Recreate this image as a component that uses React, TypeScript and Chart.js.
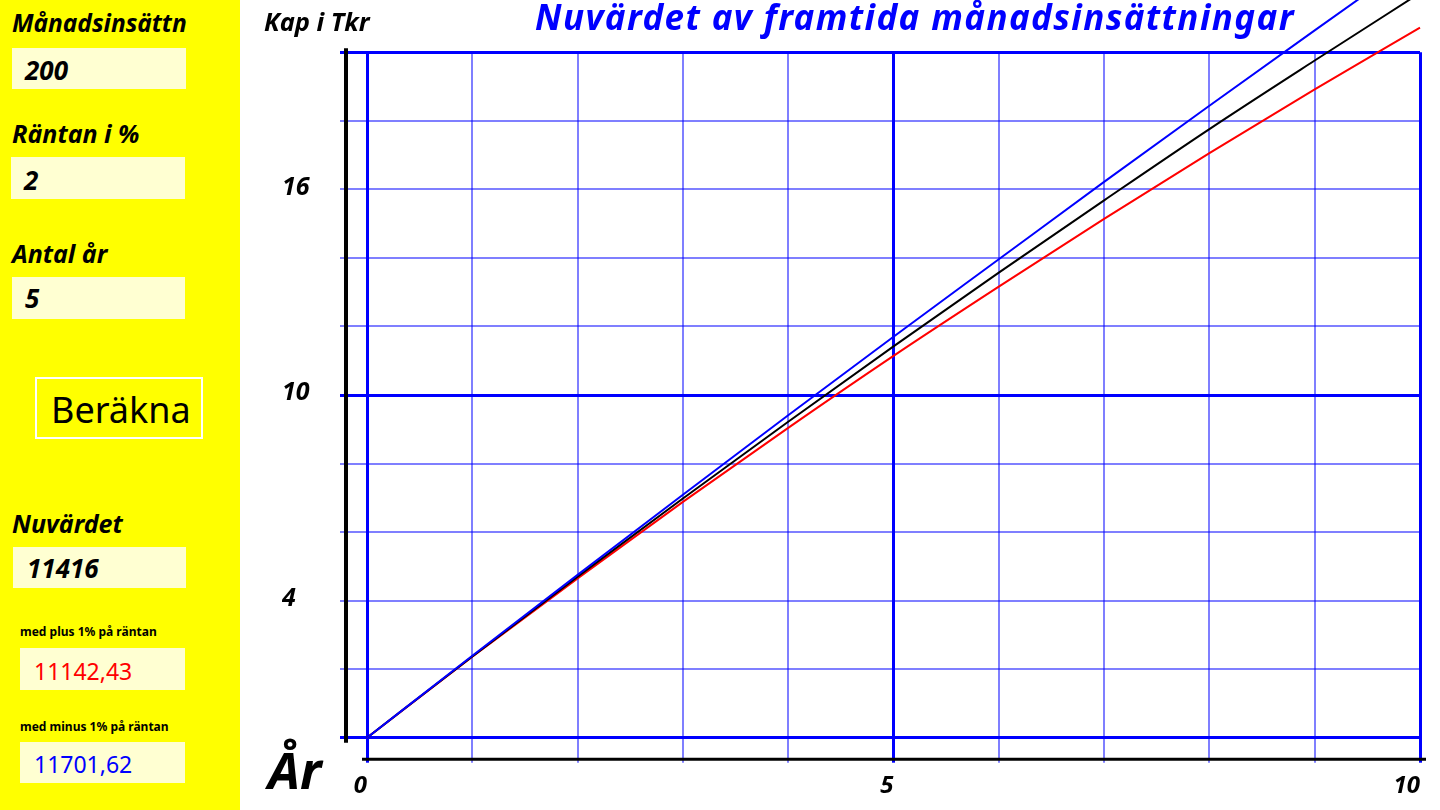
import React, { useEffect, useRef } from "react";
import { Chart, registerables } from "chart.js";

Chart.register(...registerables);

// Years on the x axis
const years = [0, 1, 2, 3, 4, 5, 6, 7, 8, 9, 10];
// Present value in Tkr, interest 2 % (black)
const baseValues = [0, 2.37, 4.7, 6.98, 9.22, 11.42, 13.57, 15.68, 17.76, 19.76, 21.73];
// Interest +1 % (red)
const plusValues = [0, 2.36, 4.65, 6.88, 9.04, 11.14, 13.16, 15.14, 17.06, 18.92, 20.72];
// Interest -1 % (blue)
const minusValues = [0, 2.39, 4.75, 7.09, 9.41, 11.7, 13.96, 16.22, 18.44, 20.64, 22.82];

const yTickLabels = [4, 10, 16];
const xTickLabels = [0, 5, 10];
const majorX = [0, 5, 10];
const majorY = [0, 10, 20];

const FONT = "'Noto Sans', sans-serif";

function Txt(props: {
  x: number;
  base: number;
  size: number;
  text: string;
  bold?: boolean;
  italic?: boolean;
  color?: string;
  spacing?: number;
}) {
  const { x, base, size, text, bold = true, italic = true, color = "#000", spacing = 0 } = props;
  return (
    <div
      style={{
        position: "absolute",
        left: x,
        top: base - 0.888 * size,
        fontFamily: FONT,
        fontSize: size,
        lineHeight: 1,
        fontWeight: bold ? 700 : 400,
        fontStyle: italic ? "italic" : "normal",
        letterSpacing: spacing,
        color,
        whiteSpace: "nowrap",
      }}
    >
      {text}
    </div>
  );
}

function Box(props: { x: number; y: number; w: number; h: number }) {
  return (
    <div
      style={{
        position: "absolute",
        left: props.x,
        top: props.y,
        width: props.w,
        height: props.h,
        background: "#FFFFD2",
      }}
    />
  );
}

export default function App() {
  const ref = useRef<HTMLCanvasElement | null>(null);

  useEffect(() => {
    if (!ref.current) return;
    const mk = (vals: number[]) => years.map((x, i) => ({ x, y: vals[i] }));
    const axisDecor = {
      id: "axisDecor",
      beforeDatasetsDraw(chart: any) {
        const { ctx, chartArea } = chart;
        ctx.save();
        ctx.strokeStyle = "#000";
        ctx.lineWidth = 4;
        ctx.beginPath();
        ctx.moveTo(chartArea.left - 21, chartArea.top - 4);
        ctx.lineTo(chartArea.left - 21, chartArea.bottom + 5);
        ctx.stroke();
        ctx.lineWidth = 3;
        ctx.beginPath();
        ctx.moveTo(chartArea.left - 5, chartArea.bottom + 21.5);
        ctx.lineTo(chartArea.right + 6, chartArea.bottom + 21.5);
        ctx.stroke();
        ctx.restore();
      },
    };
    const gridColor = (major: number[]) => (c: any) =>
      c.tick && major.includes(c.tick.value) ? "#0000FF" : "rgba(0,0,255,0.5)";
    const gridWidth = (major: number[]) => (c: any) =>
      c.tick && major.includes(c.tick.value) ? 3 : 2;

    const chart = new Chart(ref.current, {
      type: "line",
      data: {
        datasets: [
          { data: mk(minusValues), borderColor: "#0000FF", borderWidth: 2 },
          { data: mk(baseValues), borderColor: "#000000", borderWidth: 2 },
          { data: mk(plusValues), borderColor: "#FF0000", borderWidth: 2 },
        ],
      },
      options: {
        animation: false,
        responsive: false,
        clip: false as any,
        layout: { padding: { top: 52.3, left: 42, right: 20, bottom: 0 } },
        elements: {
          point: { radius: 0 },
          line: { cubicInterpolationMode: "monotone" },
        },
        plugins: { legend: { display: false }, tooltip: { enabled: false }, title: { display: false } },
        scales: {
          x: {
            type: "linear",
            min: 0,
            max: 10,
            afterFit: (s: any) => {
              s.height = 72.3;
            },
            border: { display: false },
            grid: {
              color: gridColor(majorX),
              lineWidth: gridWidth(majorX),
              tickLength: 25,
              tickColor: gridColor(majorX),
              tickWidth: gridWidth(majorX),
            } as any,
            ticks: {
              stepSize: 1,
              autoSkip: false,
              maxRotation: 0,
              align: "end",
              padding: 9,
              color: "#000",
              font: { family: FONT, size: 24, weight: "bold", style: "italic" },
              callback: (v: any) => (xTickLabels.includes(Number(v)) ? String(v) : ""),
            },
          },
          y: {
            type: "linear",
            min: 0,
            max: 20,
            afterFit: (s: any) => {
              s.width = 85;
            },
            border: { display: false },
            grid: {
              color: gridColor(majorY),
              lineWidth: gridWidth(majorY),
              tickLength: 27,
              tickColor: gridColor(majorY),
              tickWidth: gridWidth(majorY),
            } as any,
            ticks: {
              stepSize: 2,
              autoSkip: false,
              crossAlign: "far",
              labelOffset: -2,
              color: "#000",
              font: { family: FONT, size: 25, weight: "bold", style: "italic" },
              callback: (v: any) => (yTickLabels.includes(Number(v)) ? String(v) : ""),
            },
          },
        },
      },
      plugins: [axisDecor],
    });
    return () => chart.destroy();
  }, []);

  return (
    <div
      style={{
        position: "absolute",
        left: 0,
        top: 0,
        width: 1440,
        height: 810,
        overflow: "hidden",
        background: "#fff",
      }}
    >
      <div style={{ position: "absolute", left: 0, top: 0, width: 240, height: 810, background: "#FFFF00" }} />
      <Txt x={12} base={33} size={24.5} text="Månadsinsättn" />
      <Box x={12} y={48} w={174} h={41} />
      <Txt x={25} base={80} size={26} text="200" />
      <Txt x={12} base={143} size={25} text="Räntan i %" />
      <Box x={11} y={157} w={174} h={42} />
      <Txt x={24} base={190} size={26} text="2" />
      <Txt x={12} base={263} size={25} text="Antal år" />
      <Box x={12} y={277} w={173} h={42} />
      <Txt x={25} base={308} size={26} text="5" />
      <div
        style={{
          position: "absolute",
          left: 35,
          top: 377,
          width: 168,
          height: 62,
          boxSizing: "border-box",
          border: "2px solid #FFFFFF",
        }}
      />
      <Txt x={51} base={424} size={36} text="Beräkna" bold={false} italic={false} />
      <Txt x={12} base={533} size={25} text="Nuvärdet" />
      <Box x={13} y={547} w={173} h={41} />
      <Txt x={27} base={578} size={26} text="11416" />
      <Txt x={20} base={637} size={12} text="med plus 1% på räntan" italic={false} />
      <Box x={20} y={648} w={165} h={42} />
      <Txt x={34} base={680} size={23} text="11142,43" bold={false} italic={false} color="#FF0000" />
      <Txt x={20} base={732} size={12} text="med minus 1% på räntan" italic={false} />
      <Box x={20} y={742} w={165} h={41} />
      <Txt x={34} base={773} size={23} text="11701,62" bold={false} italic={false} color="#0000FF" />

      <canvas
        ref={ref}
        width={1200}
        height={810}
        style={{ position: "absolute", left: 240, top: 0, width: 1200, height: 810 }}
      />
      <Txt x={264} base={32} size={25.5} text="Kap i Tkr" />
      <Txt
        x={535}
        base={30}
        size={35}
        spacing={1.4}
        text="Nuvärdet av framtida månadsinsättningar"
        color="#0000FF"
      />
      <Txt x={268} base={789} size={51} text="År" />
    </div>
  );
}
